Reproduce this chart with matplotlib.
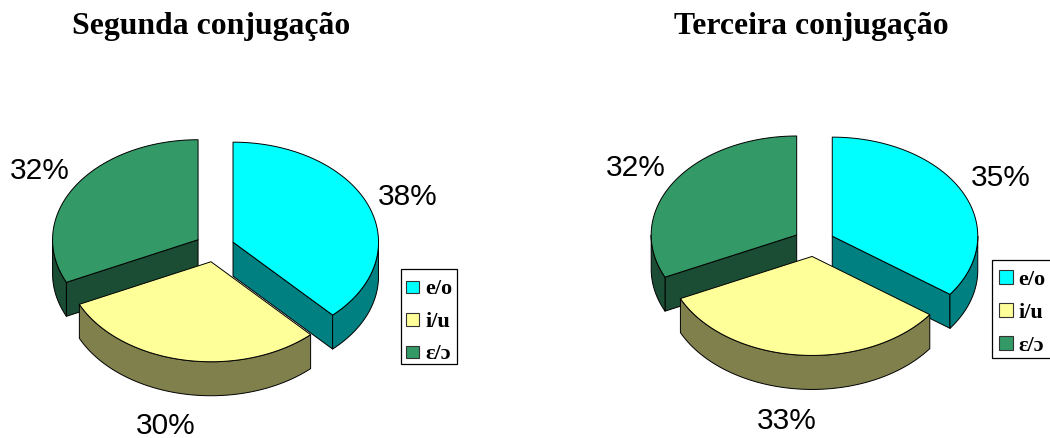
import numpy as np
import matplotlib
matplotlib.use("Agg")
import matplotlib.pyplot as plt
from matplotlib.patches import Polygon, Patch, Rectangle
from matplotlib.legend_handler import HandlerPatch

# ---- data ----
categories = ["e/o", "i/u", "ε/ɔ"]
segunda_values = [38, 30, 32]
terceira_values = [35, 33, 32]
segunda_title = "Segunda conjugação"
terceira_title = "Terceira conjugação"
top_colors = ["#00FFFF", "#FFFF99", "#339966"]
side_colors = ["#008080", "#80804D", "#1A4D33"]

W, H = 1050, 439
RX, DEPTH = 145.5, 34.0
fig = plt.figure(figsize=(W / 100, H / 100), dpi=100, facecolor="white")


def make_axes():
    ax = fig.add_axes([0, 0, 1, 1])
    ax.set_xlim(0, W)
    ax.set_ylim(H, 0)
    ax.axis("off")
    ax.patch.set_alpha(0)
    return ax


def draw_pie(ax, values, cx, cy, ry, ex, ey, title, title_x, label_pos, box, anchor, marker_pt, spacing):
    def pt(ox, oy, a):
        return ox + RX * np.sin(a), oy - ry * np.cos(a)

    fracs = np.array(values, float) / np.sum(values)
    edges = np.concatenate([[0], np.cumsum(fracs)]) * 2 * np.pi
    lw = 0.7
    # draw back-most slices first, the front slice last
    for i in [2, 0, 1]:
        a0, a1 = edges[i], edges[i + 1]
        mid = (a0 + a1) / 2
        ox, oy = cx + ex * np.sin(mid), cy - ey * np.cos(mid)
        # radial cut faces that look towards the viewer
        for a, show in ((a0, np.sin(a0) < -1e-6), (a1, np.sin(a1) > 1e-6)):
            if show:
                x, y = pt(ox, oy, a)
                ax.add_patch(Polygon([(ox, oy), (x, y), (x, y + DEPTH), (ox, oy + DEPTH)],
                                     closed=True, fc=side_colors[i], ec="black", lw=lw, joinstyle="round"))
        # outer wall: front half of the rim only
        w0, w1 = max(a0, np.pi / 2), min(a1, 3 * np.pi / 2)
        if w1 > w0:
            t = np.linspace(w0, w1, 120)
            x, y = pt(ox, oy, t)
            ax.add_patch(Polygon(np.r_[np.c_[x, y], np.c_[x[::-1], y[::-1] + DEPTH]],
                                 closed=True, fc=side_colors[i], ec="black", lw=lw, joinstyle="round"))
        # top face
        t = np.linspace(a0, a1, 200)
        x, y = pt(ox, oy, t)
        ax.add_patch(Polygon(np.r_[[(ox, oy)], np.c_[x, y]], closed=True,
                             fc=top_colors[i], ec="black", lw=lw, joinstyle="round"))
    for v, (lx, ly) in zip(values, label_pos):
        ax.text(lx, ly, f"{v}%", ha="center", va="baseline", fontsize=21.5,
                family="Liberation Sans", color="black")
    ax.text(title_x, 34, title, ha="center", va="baseline", fontsize=22.9,
            family="Liberation Serif", weight="bold", color="black")

    # legend frame, then the legend's own rows on top of it
    ax.add_patch(Rectangle(box[:2], box[2], box[3], fc="white", ec="black", lw=0.9, zorder=4))

    def square(legend, orig_handle, xdescent, ydescent, width, height, fontsize):
        return Rectangle((0, 0), marker_pt, marker_pt)

    handles = [Patch(fc=c, ec="#333333", lw=0.8) for c in top_colors]
    leg = ax.legend(handles, categories, loc="upper left",
                    bbox_to_anchor=anchor, bbox_transform=ax.transData, borderaxespad=0,
                    prop={"family": ["Liberation Serif", "DejaVu Serif"], "weight": "bold", "size": 16},
                    frameon=False, handlelength=0.62, handleheight=0.54, handletextpad=0.25,
                    labelspacing=spacing, borderpad=0,
                    handler_map={Patch: HandlerPatch(patch_func=square)})
    leg.set_zorder(5)


draw_pie(make_axes(), segunda_values, 214.7, 248.5, 100, 19.7, 14.5, segunda_title, 211,
         [(408, 205), (166, 434.5), (39.5, 179.5)], (400.5, 270, 56, 95), (406, 279), 9.0, 0.565)
draw_pie(make_axes(), terceira_values, 814, 243.5, 99, 20.5, 14, terceira_title, 811,
         [(1001, 186.5), (787, 429.5), (636, 176.5)], (992, 260.5, 70, 98.5), (999.3, 270), 9.8, 0.585)

fig.savefig("out.png", dpi=100)
